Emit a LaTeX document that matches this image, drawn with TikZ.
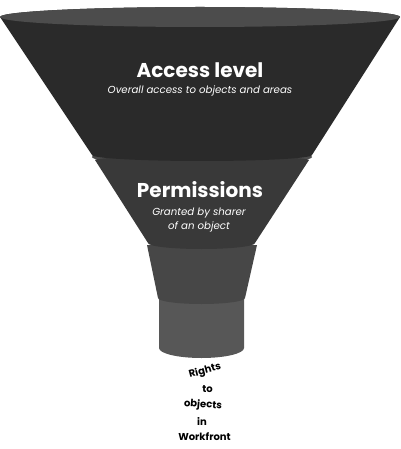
\documentclass[tikz,border=0pt]{standalone}
\usepackage{fontspec}
\setmainfont{Poppins}
\usepackage{tikz}
\usetikzlibrary{calc}

\definecolor{rimgrey}{HTML}{4C4C4C}
\definecolor{conedark}{HTML}{2A2A2A}
\definecolor{conemid}{HTML}{393939}
\definecolor{collargrey}{HTML}{474747}
\definecolor{pipegrey}{HTML}{575757}

\begin{document}
\begin{tikzpicture}
[x=1pt,y=1pt,
			title/.style={text=white,font=\bfseries\fontsize{20}{22}\selectfont},
			sub/.style={text=white,font=\itshape\fontsize{10.2}{14}\selectfont,align=center},
			outlet/.style={text=black,inner sep=0pt,font=\bfseries\fontsize{10}{12}\selectfont}]
\useasboundingbox (0,0) rectangle (400,-449);

% spout
\fill[pipegrey] (159,-298) -- (159,-348) arc[start angle=180,end angle=360,x radius=42.5pt,y radius=10pt]
	-- (244,-298) -- cycle;
\fill[collargrey] (147,-245) -- (158,-298) arc[start angle=180,end angle=360,x radius=43.5pt,y radius=6pt]
	-- (257,-245) -- cycle;

% lower cone
\fill[rimgrey] (202,-157) ellipse[x radius=110pt,y radius=8pt];
\fill[conemid] (95,-160) -- (148,-243) arc[start angle=180,end angle=360,x radius=53.5pt,y radius=6pt]
	-- (309,-160) arc[start angle=0,end angle=180,x radius=107pt,y radius=4pt] -- cycle;

% upper cone
\fill[conedark] (0,-17) -- (92,-155) arc[start angle=180,end angle=360,x radius=110pt,y radius=6pt]
	-- (400,-17) arc[start angle=0,end angle=180,x radius=200pt,y radius=10pt] -- cycle;
\fill[rimgrey] (200,-17) ellipse[x radius=200pt,y radius=10pt];

\node (acc) at (200,-70)[title] {Access level};
\node (accsub) at (200,-91)[sub] {Overall access to objects and areas};
\node (perm) at (200,-190)[title] {Permissions};
\node (permsub) at (199,-220)[sub] {Granted by sharer\\of an object};

\node (r1) at (205,-371)[outlet,rotate=15] {Rights};
\node (r2) at (207.5,-389)[outlet] {to};
\node (r3) at (203,-405)[outlet,rotate=-5] {objects};
\node (r4) at (202,-421)[outlet] {in};
\node (r5) at (204.5,-437)[outlet] {Workfront};

\end{tikzpicture}
\end{document}
